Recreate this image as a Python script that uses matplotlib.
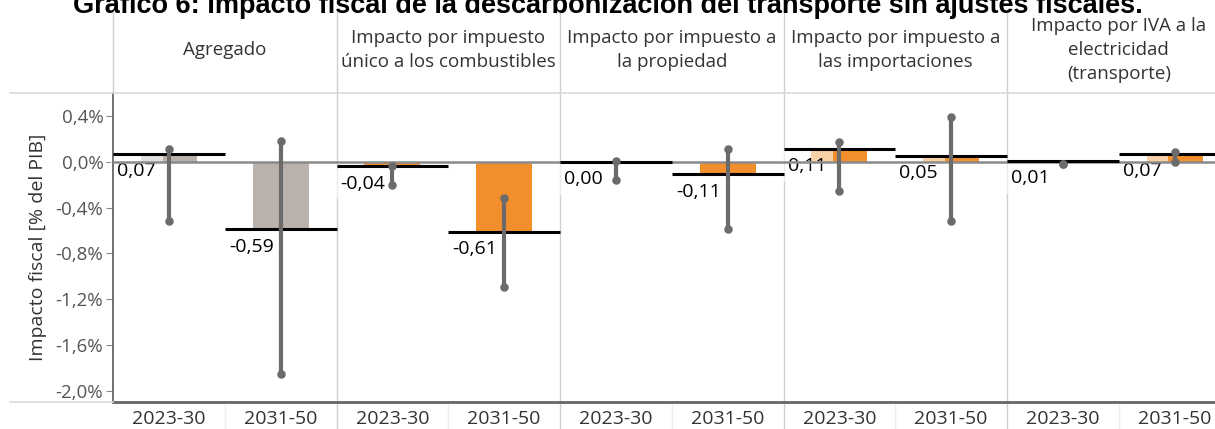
import numpy as np
import matplotlib
matplotlib.use('Agg')
import matplotlib.pyplot as plt
from matplotlib.lines import Line2D
from matplotlib.transforms import blended_transform_factory

plt.rcParams['font.family'] = ['Open Sans', 'DejaVu Sans']

# Datos
paneles = ['Agregado',
           'Impacto por impuesto\núnico a los combustibles',
           'Impacto por impuesto a\nla propiedad',
           'Impacto por impuesto a\nlas importaciones',
           'Impacto por IVA a la\nelectricidad\n(transporte)']
periodos = ['2023-30', '2031-50']
valores = [0.07, -0.59, -0.04, -0.61, 0.00, -0.11, 0.11, 0.05, 0.01, 0.07]
err_min = [-0.515, -1.855, -0.20, -1.09, -0.16, -0.588, -0.253, -0.518, -0.02, 0.0]
err_max = [0.108, 0.18, -0.038, -0.32, 0.006, 0.108, 0.17, 0.393, -0.02, 0.087]
colores = ['#bab0ac'] * 2 + ['#f28e2b'] * 8

W, H = 1215, 429
fig = plt.figure(figsize=(W / 100, H / 100), dpi=100)
top_px, bot_px, left_px = 93, 401.7, 113
cell = 111.75
ax = fig.add_axes([left_px / W, (H - bot_px) / H, 10 * cell / W, (bot_px - top_px) / H])

x = np.arange(len(valores))
ax.bar(x, valores, width=0.5, color=colores, zorder=1)
ax.axhline(0, color='#8a8a8a', lw=1.8, zorder=3)
ax.hlines(valores, x - 0.5, x + 0.5, color='black', lw=2.2, zorder=4)
ax.vlines(x, err_min, err_max, color='#6b6b6b', lw=3, zorder=5)
ax.scatter(x, err_min, s=26, color='#6b6b6b', zorder=6)
ax.scatter(x, err_max, s=26, color='#6b6b6b', zorder=6)

# etiquetas de valor con fondo semitransparente
for xi, v in zip(x, valores):
    ax.annotate(f'{v:.2f}'.replace('.', ','), xy=(xi - 0.5, v), xytext=(3, -6),
                textcoords='offset points', ha='left', va='top', fontsize=14,
                color='black', zorder=2,
                bbox=dict(boxstyle='square,pad=0.35', fc='white', ec='none', alpha=0.6))

ax.set_xlim(-0.5, 9.5)
ax.set_ylim(-2.096, 0.6)
ticks = np.arange(-2.0, 0.41, 0.4)
ax.set_yticks(ticks)
ax.set_yticklabels([f'{t:.1f}%'.replace('.', ',').replace('-0,0', '0,0') for t in ticks],
                   fontsize=13.5, color='#555555')
ax.tick_params(axis='y', length=5, color='#888888', pad=2)
ax.set_xticks(x)
ax.set_xticklabels(periodos * 5, fontsize=14, color='#333333')
ax.tick_params(axis='x', length=0, pad=6)
ax.set_ylabel('Impacto fiscal [% del PIB]', fontsize=14, color='#333333', labelpad=6)

for s in ['top', 'right']:
    ax.spines[s].set_visible(False)
ax.spines['left'].set_color('#666666')
ax.spines['left'].set_linewidth(1.3)
ax.spines['bottom'].set_color('#666666')
ax.spines['bottom'].set_linewidth(2)

# separadores de paneles
y_top = (bot_px - 10) / (bot_px - top_px)
y_bot = (bot_px - H) / (bot_px - top_px)
for b in [1.5, 3.5, 5.5, 7.5]:
    ax.axvline(b, ymin=y_bot, ymax=y_top, color='#d0d0d0', lw=1, clip_on=False, zorder=0)
ax.axvline(-0.5, ymin=1, ymax=y_top, color='#d0d0d0', lw=1, clip_on=False, zorder=0)
for b in [0.5, 2.5, 4.5, 6.5, 8.5]:
    ax.axvline(b, ymin=y_bot, ymax=0, color='#eeeeee', lw=1, clip_on=False, zorder=0)

fig.add_artist(Line2D([10 / W, 1], [1 - top_px / H] * 2, color='#d9d9d9', lw=1.2))
fig.add_artist(Line2D([10 / W, left_px / W], [1 - bot_px / H] * 2, color='#d9d9d9', lw=1.2))

# encabezados
tr = blended_transform_factory(ax.transData, fig.transFigure)
for i, p in enumerate(paneles):
    ax.text(2 * i + 0.5, 1 - 50 / H, p, transform=tr, ha='center', va='center',
            fontsize=13.5, color='#333333', linespacing=1.42)

fig.text(0.5, 1 - 13 / H,
         'Gráfico 6: Impacto fiscal de la descarbonización del transporte sin ajustes fiscales.',
         ha='center', va='baseline', fontsize=19.5, fontweight='bold',
         family='Liberation Sans', color='black')

fig.savefig('out.png', dpi=100)
